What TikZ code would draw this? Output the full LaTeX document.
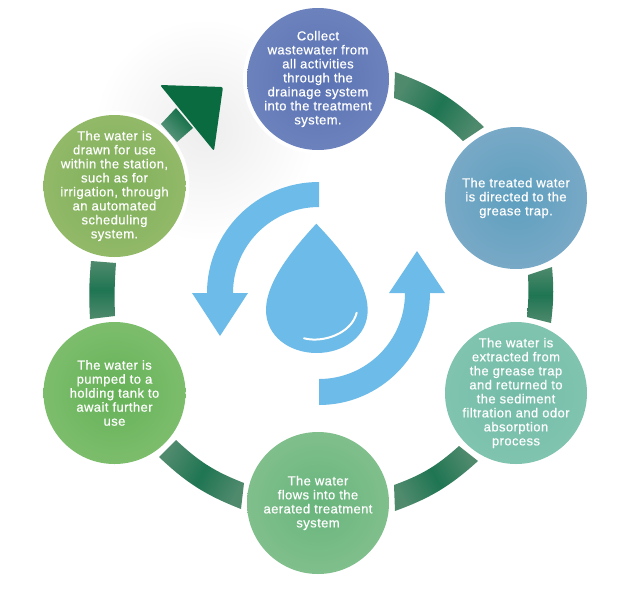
\documentclass[tikz,border=0pt]{standalone}
\usepackage{fontspec}
\newfontfamily\lab[FakeBold=0.6,LetterSpace=3.2]{Liberation Sans}
\definecolor{blueA}{HTML}{6DBBE8}
\definecolor{bandend}{HTML}{4F8A6D}
\definecolor{banddark}{HTML}{1F7552}
\definecolor{arrowdark}{HTML}{0A6A40}
\definecolor{shaftlight}{HTML}{5F9880}
\definecolor{aIn}{HTML}{5A72B3}\definecolor{aOut}{HTML}{6C82BD}
\definecolor{bIn}{HTML}{5E9FBF}\definecolor{bOut}{HTML}{78A9C6}
\definecolor{cIn}{HTML}{74BCA8}\definecolor{cOut}{HTML}{80C4AF}
\definecolor{dIn}{HTML}{68B57C}\definecolor{dOut}{HTML}{80BF8C}
\definecolor{eIn}{HTML}{66B258}\definecolor{eOut}{HTML}{7CBD6C}
\definecolor{fIn}{HTML}{7FB05A}\definecolor{fOut}{HTML}{92B968}
\tikzset{
  x=1pt,y=-1pt,
  stagecircle/.style={circle,minimum size=142pt,inner sep=0pt,inner color=#1In,outer color=#1Out},
  stagetext/.style={text=white,align=center,inner sep=0pt,font=\lab\fontsize{13}{14}\selectfont},
  halo/.style={circle,fill=white,minimum size=150pt,inner sep=0pt},
  band/.style={top color=bandend,bottom color=bandend,middle color=banddark,shading angle=#1},
  bluefill/.style={fill=blueA,draw=none},
}
\begin{document}
\begin{tikzpicture}
\useasboundingbox (0,0) rectangle (622,590);
\fill[white] (0,0) rectangle (622,590);
% soft shadow behind the arrow
\shade[inner color=black!7,outer color=white] (205,130) circle[radius=112];
% halos
\foreach \n/\px/\py in {a/318/79,b/516/198,c/516/393,d/318/503,e/114.5/393,f/114.5/186}
  \node[halo] (h\n) at (\px,\py) {};
% bands between the stages
\shade[band=58] (395,72) to[bend left=12] (484,127) -- (463,141) to[bend right=12] (394,98) -- cycle;
\shade[band=0] (552,267) to[bend left=6] (551,323) -- (527,317) to[bend right=4] (528,275) -- cycle;
\shade[band=118] (478,461) to[bend left=11] (395,511) -- (394,485) to[bend right=11] (459,446) -- cycle;
\shade[band=62] (159,457) to[bend right=11] (241,509) -- (244,483) to[bend left=11] (176,440) -- cycle;
\shade[band=0] (90,319) to[bend left=4] (91,261) -- (116,263) to[bend right=3] (115,316) -- cycle;
% green arrow
\shade[top color=arrowdark,bottom color=shaftlight,shading angle=-45]
  (161,124) -- (176,108) -- (193,128) -- (177,142) -- cycle;
\fill[arrowdark,rounded corners=2pt] (160,85) -- (223,87) -- (214,151) -- cycle;
% stages
\node[stagecircle=a] (a) at (318,79) {};
\node[stagetext] at (a) {Collect\\wastewater from\\all activities\\through the\\drainage system\\into the treatment\\system.};
\node[stagecircle=b] (b) at (516,198) {};
\node[stagetext] at (b) {The treated water\\is directed to the\\grease trap.};
\node[stagecircle=c] (c) at (516,393) {};
\node[stagetext] at (c) {The water is\\extracted from\\the grease trap\\and returned to\\the sediment\\filtration and odor\\absorption\\process};
\node[stagecircle=d] (d) at (318,503) {};
\node[stagetext] at (d) {The water\\flows into the\\aerated treatment\\system};
\node[stagecircle=e] (e) at (114.5,393) {};
\node[stagetext] at (e) {The water is\\pumped to a\\holding tank to\\await further\\use};
\node[stagecircle=f] (f) at (114.5,186) {};
\node[stagetext] at (f) {The water is\\drawn for use\\within the station,\\such as for\\irrigation, through\\an automated\\scheduling\\system.};
% blue cycle arrows
\fill[bluefill] (319,182) .. controls (257.1,182) and (207,231.7) .. (207,293) -- (192,293) -- (220,336) -- (248,293) -- (233,293)
  .. controls (233,245.5) and (271.5,207) .. (319,207) -- cycle;
\fill[bluefill] (319,405) .. controls (380.3,405) and (430,354.9) .. (430,293) -- (445,293) -- (417,251) -- (389,293) -- (405,293)
  .. controls (405,340.5) and (366.5,379) .. (319,379) -- cycle;
% drop
\fill[bluefill] (316.3,223.7) .. controls (336.7,245) and (367.7,280) .. (367.7,310)
  .. controls (367.7,336.7) and (343.3,353) .. (316.7,353)
  .. controls (290,353) and (266,336.7) .. (266,310)
  .. controls (266,280) and (296.7,245) .. (316.3,223.7) -- cycle;
\draw[white,line width=2pt,line cap=round] (304,338.3) .. controls (323.3,343.3) and (351.7,333.3) .. (356.7,312.7);
\end{tikzpicture}
\end{document}
